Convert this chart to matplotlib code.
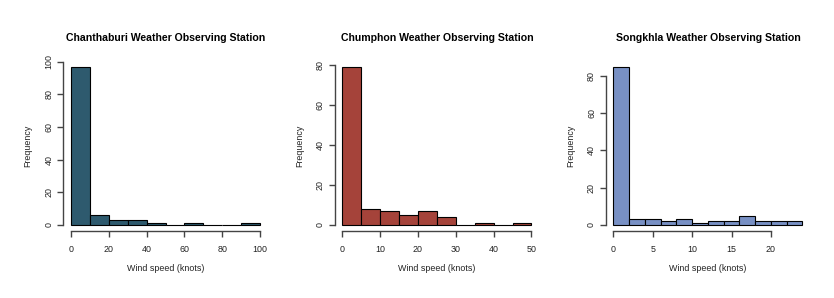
import numpy as np
import matplotlib
matplotlib.use("Agg")
import matplotlib.pyplot as plt

# Histogram data (bin edges + counts)
chanthaburi_edges = [0, 10, 20, 30, 40, 50, 60, 70, 80, 90, 100]
chanthaburi_counts = [97, 6, 3, 3, 1, 0, 1, 0, 0, 1]

chumphon_edges = [0, 5, 10, 15, 20, 25, 30, 35, 40, 45, 50]
chumphon_counts = [79, 8, 7, 5, 7, 4, 0, 1, 0, 1]

songkhla_edges = [0, 2, 4, 6, 8, 10, 12, 14, 16, 18, 20, 22, 24]
songkhla_counts = [85, 3, 3, 2, 3, 1, 2, 2, 5, 2, 2, 2]

titles = ["Chanthaburi Weather Observing Station",
          "Chumphon Weather Observing Station",
          "Songkhla Weather Observing Station"]
colors = ["#2E5A6E", "#A5433A", "#7890C4"]
xticks = [[0, 20, 40, 60, 80, 100], [0, 10, 20, 30, 40, 50], [0, 5, 10, 15, 20]]
yticks = [[0, 20, 40, 60, 80, 100], [0, 20, 40, 60, 80], [0, 20, 40, 60, 80]]

plt.rcParams['font.family'] = ['Liberation Sans', 'DejaVu Sans']
axis_col = "#444444"
text_col = "#222222"

fig = plt.figure(figsize=(8.34, 2.98), dpi=100)
lefts = [0.076, 0.4013, 0.7263]

data = [(chanthaburi_edges, chanthaburi_counts),
        (chumphon_edges, chumphon_counts),
        (songkhla_edges, songkhla_counts)]

for i, (edges, counts) in enumerate(data):
    ax = fig.add_axes([lefts[i], 0.2238, 0.245, 0.574])
    ax.hist(edges[:-1], bins=edges, weights=counts, color=colors[i],
            edgecolor="black", linewidth=0.8)
    span = edges[-1] - edges[0]
    ax.set_xlim(edges[0] - 0.04 * span, edges[-1] + 0.04 * span)
    top = max(counts)
    ax.set_ylim(-0.04 * top, top * 1.04)

    ax.set_xticks(xticks[i])
    ax.set_yticks(yticks[i])
    for s in ["top", "right"]:
        ax.spines[s].set_visible(False)
    ax.spines["bottom"].set_bounds(xticks[i][0], xticks[i][-1])
    ax.spines["left"].set_bounds(yticks[i][0], yticks[i][-1])
    for s in ["bottom", "left"]:
        ax.spines[s].set_color(axis_col)
        ax.spines[s].set_linewidth(1.0)
    ax.tick_params(axis="both", colors=axis_col, labelcolor=text_col,
                   labelsize=6.4, length=4, width=1.0)
    ax.tick_params(axis="x", pad=6)
    ax.tick_params(axis="y", pad=3)
    for lab in ax.get_yticklabels():
        lab.set_rotation(90)
        lab.set_va("center")

    ax.set_title(titles[i], fontsize=7.6, fontweight="bold", pad=14)
    ax.set_xlabel("Wind speed (knots)", fontsize=6.4, color=text_col, va="center")
    ax.xaxis.set_label_coords(0.5, -0.216)
    ax.set_ylabel("Frequency", fontsize=6.4, color=text_col, va="center")
    ax.yaxis.set_label_coords(-0.172, 0.5)

fig.savefig("out.png", dpi=100)
